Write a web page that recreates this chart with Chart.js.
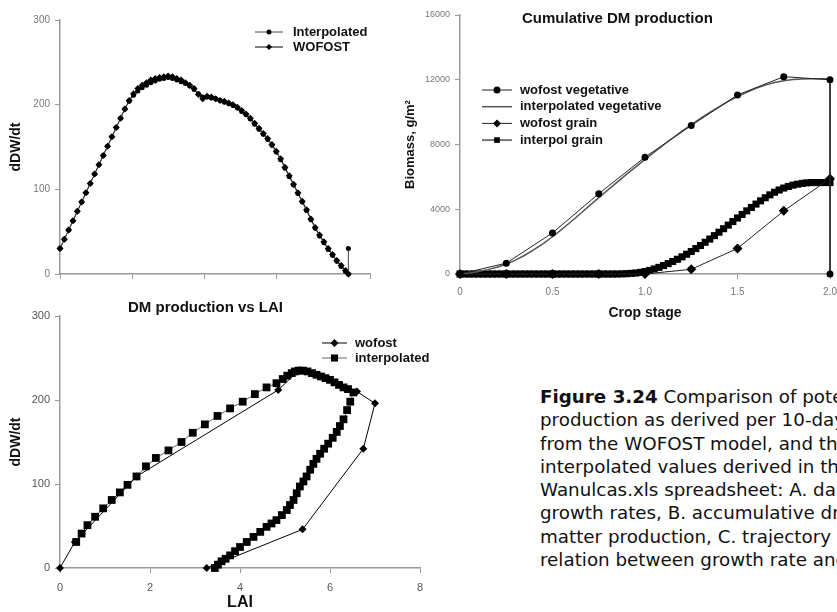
<!DOCTYPE html>
<html>
<head>
<meta charset="utf-8">
<script src="https://cdn.jsdelivr.net/npm/chart.js@4.4.0/dist/chart.umd.min.js"></script>
<style>
body { margin: 0; width: 837px; height: 612px; overflow: hidden; background: #fff; position: relative; font-family: 'Liberation Sans', Arial, sans-serif; }
canvas { position: absolute; }
.ttl { position: absolute; font-weight: bold; font-size: 15px; line-height: 18px; white-space: nowrap; color: #111; }
#caption { position: absolute; left: 540px; top: 385px; font-family: 'DejaVu Sans', sans-serif; font-size: 18.3px; line-height: 23.3px; white-space: nowrap; color: #111; }
</style>
</head>
<body>
<canvas id="chartA" width="400" height="300" style="left:0;top:0"></canvas>
<canvas id="chartB" width="437" height="330" style="left:400px;top:0"></canvas>
<canvas id="chartC" width="450" height="312" style="left:0;top:300px"></canvas>
<div class="ttl" style="left:522px;top:9px">Cumulative DM production</div>
<div class="ttl" style="left:128px;top:298px">DM production vs LAI</div>
<div id="caption">
<div><b>Figure 3.24</b> Comparison of potential dry</div>
<div>production as derived per 10-day intervals</div>
<div>from the WOFOST model, and the</div>
<div>interpolated values derived in the</div>
<div>Wanulcas.xls spreadsheet: A. daily</div>
<div>growth rates, B. accumulative dry</div>
<div>matter production, C. trajectory of</div>
<div>relation between growth rate and LAI</div>
</div>
<script>
// A: daily growth rate (dDW/dt) per day
const daysA = [0,3,6,9,12,15,18,21,24,27,30,33,36,39,42,45,48,51,54,57,60,63,66,69,72,75,78,81,84,87,90,93,96,99,102,105,108,111,114,117,120,123,126,129,132,135,138,141,144,147,150,153,156,159,162,165,168,171,174,177,180,183,186,189,192,195,198,200];
const wofostA = [30,41,52,63,74,85,96,107,118,129,140,151,162,173,184,195,205,213,219,223,226,229,231,232,233,234,233,231,229,226,223,219,212,207,210,209,207,205,204,202,200,197,193,189,184,178,172,166,160,153,145,136,126,116,106,96,86,76,65,55,46,38,30,23,16,10,4,0];
const daysAInterp = daysA.concat([200]);
const interpA = [30,41,52,63,74,85,96,107,118,129,140,151,162,173,184,195,204,211,216,220,223,226,228,230,231,232,231,229,227,225,222,218,213,209,209,208,207,205,203,201,199,196,192,188,183,177,171,165,159,152,144,135,125,115,105,95,85,75,64,54,45,37,29,22,15,9,3,0,30];

// B: cumulative DM production vs crop stage
const stageVeg = [0,0.25,0.5,0.75,1.0,1.25,1.5,1.75,2.0,2.0];
const wofostVeg = [0,670,2540,4960,7220,9170,11060,12190,12000,0];
const stageGrain = [0,0.25,0.5,0.75,1.0,1.25,1.5,1.75,2.0];
const wofostGrain = [0,0,0,0,0,290,1580,3900,5890];
const stageInterpVeg = [0,0.05,0.1,0.15,0.2,0.25,0.3,0.35,0.4,0.45,0.5,0.55,0.6,0.65,0.7,0.75,0.8,0.85,0.9,0.95,1.0,1.05,1.1,1.15,1.2,1.25,1.3,1.35,1.4,1.45,1.5,1.55,1.6,1.65,1.7,1.75,1.8,1.85,1.9,1.95,2.0];
const interpVeg = [0,60,150,270,420,600,860,1160,1500,1880,2300,2760,3230,3720,4220,4720,5200,5680,6150,6620,7080,7530,7970,8400,8820,9220,9610,9980,10330,10660,10960,11230,11470,11670,11830,11940,12010,12050,12060,12060,12060];
const stageInterpGrain = [0,0.025,0.05,0.075,0.1,0.125,0.15,0.175,0.2,0.225,0.25,0.275,0.3,0.325,0.35,0.375,0.4,0.425,0.45,0.475,0.5,0.525,0.55,0.575,0.6,0.625,0.65,0.675,0.7,0.725,0.75,0.775,0.8,0.825,0.85,0.875,0.9,0.925,0.95,0.975,1.0,1.025,1.05,1.075,1.1,1.125,1.15,1.175,1.2,1.225,1.25,1.275,1.3,1.325,1.35,1.375,1.4,1.425,1.45,1.475,1.5,1.525,1.55,1.575,1.6,1.625,1.65,1.675,1.7,1.725,1.75,1.775,1.8,1.825,1.85,1.875,1.9,1.925,1.95,1.975,2.0];
const interpGrain = [0,0,0,0,0,0,0,0,0,0,0,0,0,0,0,0,0,0,0,0,0,0,0,0,0,0,0,0,0,0,0,0,0,0,0,10,20,40,60,100,150,220,310,410,520,640,770,910,1060,1220,1390,1570,1760,1960,2160,2370,2580,2800,3020,3240,3460,3680,3900,4110,4320,4520,4710,4890,5050,5190,5310,5410,5490,5550,5600,5630,5650,5650,5650,5650,5650];
const ticksBx = ['0','0.5','1.0','1.5','2.0'];
const ticksBy = ['0','4000','8000','12000','16000'];

// C: growth rate vs LAI
const laiWofost = [0,0.33,1.7,4.85,5.3,6.6,7.0,6.74,5.39,3.26];
const rateWofost = [0,31,109,212,235,210,196,142,46,0];
const laiInterp = [0.36,0.48,0.61,0.78,0.96,1.15,1.33,1.5,1.7,1.91,2.13,2.41,2.7,2.95,3.22,3.5,3.78,4.06,4.33,4.59,4.81,4.95,5.05,5.15,5.22,5.3,5.4,5.5,5.6,5.7,5.8,5.9,6.0,6.1,6.2,6.3,6.4,6.52,6.45,6.38,6.3,6.22,6.15,6.06,5.96,5.87,5.78,5.7,5.63,5.56,5.48,5.41,5.33,5.26,5.19,5.11,5.04,4.93,4.81,4.7,4.59,4.45,4.3,4.15,4.0,3.89,3.78,3.68,3.59,3.51,3.44];
const rateInterp = [31,41,51,61,71,81,90,99,109,121,131,140,150,161,171,181,190,198,207,215,220,225,229,232,234,235,235,234,232,230,228,226,224,221,218,215,213,209,198,188,177,169,162,155,148,142,136,130,124,117,109,103,97,89,81,75,69,63,57,53,49,43,37,31,25,20,15,11,8,4,0];

Chart.defaults.font.family = "'Liberation Sans', Arial, sans-serif";
Chart.defaults.color = '#666';

const pts = (xs, ys) => xs.map((x, i) => ({ x: x, y: ys[i] }));

function drawMark(ctx, style, x, y, r, color) {
    ctx.fillStyle = color;
    ctx.beginPath();
    if (style === 'rect') {
        const s = r * Math.SQRT1_2;
        ctx.rect(x - s, y - s, 2 * s, 2 * s);
    } else if (style === 'rectRot') {
        ctx.moveTo(x, y - r); ctx.lineTo(x + r, y); ctx.lineTo(x, y + r); ctx.lineTo(x - r, y);
        ctx.closePath();
    } else {
        ctx.arc(x, y, r, 0, Math.PI * 2);
    }
    ctx.fill();
}

// legend drawn at a fixed spot inside the plot, like the original
const boxLegend = {
    id: 'boxLegend',
    afterDraw(chart, args, o) {
        const ctx = chart.ctx;
        ctx.save();
        ctx.font = o.font;
        ctx.textBaseline = 'middle';
        chart.data.datasets.forEach((ds, i) => {
            const y = o.y + i * o.gap;
            ctx.strokeStyle = ds.borderColor;
            ctx.lineWidth = ds.borderWidth;
            ctx.beginPath();
            ctx.moveTo(o.x, y);
            ctx.lineTo(o.x + o.len, y);
            ctx.stroke();
            if (ds.pointRadius > 0) drawMark(ctx, ds.pointStyle, o.x + o.len / 2, y, Math.min(ds.pointRadius, o.maxMark || 9), ds.pointBackgroundColor);
            ctx.fillStyle = '#111';
            ctx.fillText(ds.label, o.x + o.len + o.pad, y);
        });
        ctx.restore();
    }
};

function series(label, data, style, r, lineColor, width) {
    return {
        label: label, data: data, pointStyle: style, pointRadius: r,
        pointBackgroundColor: '#000', pointBorderColor: '#000', pointBorderWidth: 0,
        borderColor: lineColor, borderWidth: width, tension: 0, fill: false, clip: false
    };
}

function axis(o) {
    const s = {
        type: 'linear', min: o.min, max: o.max,
        border: { color: '#999', width: 1.5 },
        grid: { drawOnChartArea: false, tickLength: 5, color: '#999' },
        ticks: { stepSize: o.step, color: o.tickColor || '#777', font: { size: o.tickSize || 10 }, padding: o.pad, display: o.labels !== false },
        afterFit: o.fit
    };
    if (o.callback) s.ticks.callback = o.callback;
    if (o.title) s.title = { display: true, text: o.title, color: '#111', font: { size: o.titleSize, weight: 'bold' }, padding: o.titlePad };
    return s;
}

const yFit = w => (s) => { s.width = w; s.paddingTop = 0; s.paddingBottom = 0; };
const xFit = h => (s) => { s.height = h; s.paddingLeft = 0; s.paddingRight = 0; };

new Chart(document.getElementById('chartA'), {
    type: 'line',
    data: {
        datasets: [
            series('Interpolated', pts(daysAInterp, interpA), 'circle', 2.5, '#444', 1),
            series('WOFOST', pts(daysA, wofostA), 'rectRot', 3.5, '#000', 1)
        ]
    },
    options: {
        responsive: false, animation: false, events: [],
        layout: { padding: { top: 20, right: 30, left: 0, bottom: 0 } },
        plugins: { legend: { display: false }, tooltip: { enabled: false },
            boxLegend: { x: 255, y: 32, gap: 15, len: 28, pad: 10, maxMark: 3, font: 'bold 13px "Liberation Sans", Arial' } },
        scales: {
            x: axis({ min: 0, max: 215, step: 50, labels: false, fit: xFit(26) }),
            y: axis({ min: 0, max: 300, step: 100, pad: 5, fit: yFit(60), title: 'dDW/dt', titleSize: 14, titlePad: { top: 8 } })
        }
    },
    plugins: [boxLegend]
});

new Chart(document.getElementById('chartB'), {
    type: 'line',
    data: {
        datasets: [
            series('wofost vegetative', pts(stageVeg, wofostVeg), 'circle', 3.5, '#222', 1),
            series('interpolated vegetative', pts(stageInterpVeg, interpVeg), 'circle', 0, '#555', 1.5),
            series('wofost grain', pts(stageGrain, wofostGrain), 'rectRot', 5, '#222', 1),
            series('interpol grain', pts(stageInterpGrain, interpGrain), 'rect', 5, '#777', 2)
        ]
    },
    options: {
        responsive: false, animation: false, events: [],
        layout: { padding: { top: 15, right: 7, left: 0, bottom: 0 } },
        plugins: { legend: { display: false }, tooltip: { enabled: false },
            boxLegend: { x: 82, y: 90, gap: 16.7, len: 30, pad: 8, maxMark: 4, font: 'bold 13px "Liberation Sans", Arial' } },
        scales: {
            x: axis({ min: 0, max: 2, step: 0.5, pad: 7, fit: xFit(56), callback: v => ticksBx[Math.round(v / 0.5)],
                title: 'Crop stage', titleSize: 14, titlePad: { top: 4, bottom: 8 } }),
            y: axis({ min: 0, max: 16000, step: 4000, pad: 5, tickSize: 9, fit: yFit(60), callback: v => ticksBy[Math.round(v / 4000)],
                title: 'Biomass, g/m²', titleSize: 13, titlePad: { top: 3 } })
        }
    },
    plugins: [boxLegend]
});

new Chart(document.getElementById('chartC'), {
    type: 'line',
    data: {
        datasets: [
            series('wofost', pts(laiWofost, rateWofost), 'rectRot', 4, '#000', 1),
            series('interpolated', pts(laiInterp, rateInterp), 'rect', 5.5, '#666', 1)
        ]
    },
    options: {
        responsive: false, animation: false, events: [],
        layout: { padding: { top: 16, right: 30, left: 0, bottom: 0 } },
        plugins: { legend: { display: false }, tooltip: { enabled: false },
            boxLegend: { x: 322, y: 43, gap: 15, len: 25, pad: 8, maxMark: 5, font: 'bold 13px "Liberation Sans", Arial' } },
        scales: {
            x: axis({ min: 0, max: 8, step: 2, pad: 8, tickSize: 11, tickColor: '#555', fit: xFit(44),
                title: 'LAI', titleSize: 16, titlePad: { top: 2, bottom: 0 } }),
            y: axis({ min: 0, max: 300, step: 100, pad: 5, tickSize: 11, tickColor: '#555', fit: yFit(60), title: 'dDW/dt', titleSize: 14, titlePad: { top: 8 } })
        }
    },
    plugins: [boxLegend]
});
</script>
</body>
</html>
